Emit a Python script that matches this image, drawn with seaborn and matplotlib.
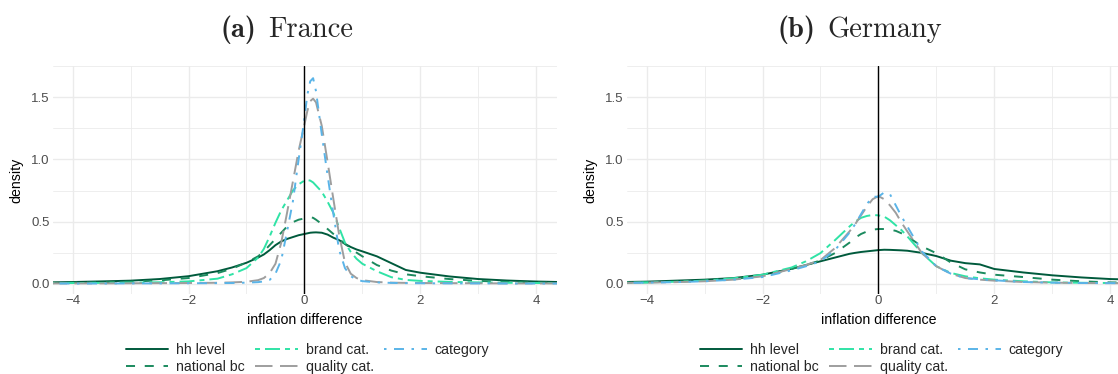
import matplotlib
matplotlib.use("Agg")
import matplotlib.pyplot as plt
from matplotlib.lines import Line2D
import seaborn as sns
import pandas as pd

# ---------------- data ----------------
series = ["hh level", "national bc", "brand cat.", "quality cat.", "category"]

fr_x = [-4.4, -4.0, -3.5, -3.0, -2.5, -2.0, -1.5, -1.25, -1.0, -0.8, -0.7, -0.6, -0.5,
        -0.4, -0.3, -0.2, -0.1, 0.0, 0.05, 0.1, 0.15, 0.2, 0.3, 0.4, 0.5, 0.6, 0.7,
        0.8, 0.9, 1.0, 1.25, 1.5, 1.75, 2.0, 2.5, 3.0, 3.5, 4.0, 4.4]
fr_hh = [0.010, 0.013, 0.018, 0.024, 0.037, 0.060, 0.100, 0.130, 0.168, 0.210, 0.235, 0.270, 0.310,
         0.340, 0.360, 0.375, 0.390, 0.400, 0.405, 0.410, 0.412, 0.413, 0.410, 0.395, 0.370, 0.350, 0.320,
         0.295, 0.275, 0.260, 0.220, 0.165, 0.110, 0.088, 0.058, 0.037, 0.025, 0.017, 0.013]
fr_nat = [0.006, 0.008, 0.011, 0.016, 0.026, 0.045, 0.085, 0.120, 0.170, 0.220, 0.260, 0.310, 0.360,
          0.410, 0.460, 0.495, 0.515, 0.525, 0.530, 0.535, 0.530, 0.515, 0.480, 0.440, 0.400, 0.360, 0.320,
          0.285, 0.250, 0.220, 0.150, 0.105, 0.075, 0.060, 0.037, 0.022, 0.014, 0.009, 0.007]
fr_brand = [0.004, 0.005, 0.006, 0.008, 0.011, 0.018, 0.040, 0.075, 0.125, 0.210, 0.280, 0.380, 0.490,
            0.590, 0.670, 0.750, 0.800, 0.830, 0.834, 0.830, 0.815, 0.790, 0.740, 0.660, 0.570, 0.450, 0.330,
            0.255, 0.200, 0.160, 0.100, 0.052, 0.030, 0.022, 0.014, 0.010, 0.007, 0.005, 0.004]
fr_qual = [0.002, 0.002, 0.002, 0.003, 0.004, 0.005, 0.007, 0.010, 0.015, 0.028, 0.045, 0.085, 0.160,
           0.330, 0.570, 0.820, 1.070, 1.280, 1.390, 1.470, 1.490, 1.460, 1.270, 0.980, 0.680, 0.390, 0.170,
           0.080, 0.045, 0.028, 0.013, 0.008, 0.006, 0.005, 0.004, 0.003, 0.002, 0.002, 0.002]
fr_cat = [0.001, 0.001, 0.001, 0.002, 0.002, 0.003, 0.004, 0.005, 0.008, 0.012, 0.018, 0.030, 0.080,
          0.190, 0.420, 0.660, 1.000, 1.330, 1.520, 1.630, 1.655, 1.550, 1.200, 0.870, 0.560, 0.270, 0.125,
          0.060, 0.032, 0.020, 0.010, 0.006, 0.004, 0.003, 0.002, 0.002, 0.001, 0.001, 0.001]

de_x = [-4.4, -4.0, -3.5, -3.0, -2.5, -2.0, -1.5, -1.25, -1.0, -0.75, -0.5, -0.4, -0.3, -0.2, -0.1,
        0.0, 0.1, 0.2, 0.3, 0.4, 0.5, 0.75, 1.0, 1.25, 1.5, 1.75, 2.0, 2.5, 3.0, 3.5, 4.0, 4.4]
de_hh = [0.013, 0.016, 0.024, 0.032, 0.045, 0.072, 0.120, 0.150, 0.180, 0.210, 0.240, 0.248, 0.255, 0.260, 0.265,
         0.270, 0.273, 0.272, 0.270, 0.268, 0.265, 0.248, 0.222, 0.185, 0.165, 0.155, 0.118, 0.090, 0.067, 0.050, 0.037, 0.032]
de_nat = [0.008, 0.010, 0.016, 0.024, 0.037, 0.064, 0.118, 0.150, 0.187, 0.246, 0.330, 0.370, 0.400, 0.420, 0.435,
          0.440, 0.440, 0.435, 0.425, 0.405, 0.380, 0.300, 0.245, 0.170, 0.115, 0.090, 0.072, 0.053, 0.032, 0.019, 0.010, 0.008]
de_brand = [0.008, 0.010, 0.015, 0.024, 0.043, 0.072, 0.130, 0.180, 0.246, 0.350, 0.460, 0.500, 0.530, 0.545, 0.553,
            0.550, 0.540, 0.510, 0.470, 0.430, 0.380, 0.246, 0.140, 0.086, 0.059, 0.043, 0.032, 0.019, 0.010, 0.007, 0.005, 0.004]
de_qual = [0.006, 0.008, 0.012, 0.019, 0.032, 0.059, 0.118, 0.150, 0.190, 0.286, 0.420, 0.480, 0.550, 0.620, 0.680,
           0.705, 0.680, 0.630, 0.570, 0.490, 0.420, 0.246, 0.140, 0.080, 0.045, 0.032, 0.024, 0.013, 0.008, 0.005, 0.004, 0.003]
de_cat = [0.005, 0.008, 0.012, 0.019, 0.032, 0.053, 0.107, 0.140, 0.180, 0.270, 0.410, 0.480, 0.560, 0.640, 0.700,
          0.700, 0.735, 0.720, 0.630, 0.540, 0.460, 0.260, 0.140, 0.080, 0.045, 0.035, 0.027, 0.013, 0.008, 0.005, 0.004, 0.003]

x_ticks = [-4, -2, 0, 2, 4]
y_ticks = [0.0, 0.5, 1.0, 1.5]
y_tick_labels = ["0.0", "0.5", "1.0", "1.5"]
panel_labels = ["(a)", "(b)"]
panel_names = ["France", "Germany"]

# ---------------- styles ----------------
palette = {"hh level": "#005A3C", "national bc": "#1B8A5E", "brand cat.": "#30E3A6",
           "quality cat.": "#9E9E9E", "category": "#5AB4E8"}
dashes = {"hh level": "", "national bc": (6.5, 7.0), "brand cat.": (3.6, 3.6, 10.8, 3.6),
          "quality cat.": (12.6, 5.4), "category": (1.8, 5.4, 7.2, 5.4)}
LW = 1.4

sns.set_style("white")
plt.rcParams["font.family"] = ["Liberation Sans", "DejaVu Sans"]
plt.rcParams["lines.scale_dashes"] = False


def long_frame(x, cols):
    parts = []
    for name, vals in zip(series, cols):
        parts.append(pd.DataFrame({"x": x, "density": vals, "series": name}))
    return pd.concat(parts, ignore_index=True)


df_fr = long_frame(fr_x, [fr_hh, fr_nat, fr_brand, fr_qual, fr_cat])
df_de = long_frame(de_x, [de_hh, de_nat, de_brand, de_qual, de_cat])

W, H = 1118, 374
fig = plt.figure(figsize=(W / 100, H / 100), dpi=100)
ax1 = fig.add_axes([53 / W, 80 / H, 504 / W, 228 / H])
ax2 = fig.add_axes([627 / W, 80 / H, 504 / W, 228 / H])

title_cx = [287, 860]
TITLE_FS = 20.5

for ax, df in zip([ax1, ax2], [df_fr, df_de]):
    sns.lineplot(data=df, x="x", y="density", hue="series", style="series",
                 hue_order=series, style_order=series, palette=palette, dashes=dashes,
                 linewidth=LW, estimator=None, sort=False, legend=False, ax=ax)
    ax.axvline(0, color="black", lw=1.0, zorder=5)
    ax.set_xlim(-4.34, 4.36)
    ax.set_ylim(-0.0835, 1.753)
    ax.set_xticks(x_ticks)
    ax.set_xticks([-3, -1, 1, 3], minor=True)
    ax.set_yticks(y_ticks)
    ax.set_yticklabels(y_tick_labels)
    ax.set_yticks([0.25, 0.75, 1.25, 1.75], minor=True)
    ax.grid(True, which="major", color="#EBEBEB", lw=1.0)
    ax.grid(True, which="minor", color="#EBEBEB", lw=0.6)
    ax.set_axisbelow(True)
    for s in ax.spines.values():
        s.set_visible(False)
    ax.tick_params(which="both", length=0, labelsize=9.5, labelcolor="#4D4D4D")
    ax.tick_params(axis="x", pad=1.0)
    ax.tick_params(axis="y", pad=2.2)
    ax.set_xlabel("inflation difference", fontsize=10.2, color="black")
    ax.set_ylabel("density", fontsize=10.2, color="black")
    ax.xaxis.set_label_coords(0.5, -0.085)
    ax.yaxis.set_label_coords(-0.0585, 0.5)

    handles = [Line2D([], [], color=palette[s], lw=LW, dashes=dashes[s]) for s in series]
    ax.legend(handles, series, loc="upper center", bbox_to_anchor=(0.505, -0.214), ncol=3,
              frameon=False, fontsize=10.2, handlelength=3.0, handletextpad=0.55,
              columnspacing=0.75, labelspacing=0.2, borderpad=0, borderaxespad=0)

# ---------------- titles: bold CM label + roman CM name ----------------
renderer = fig.canvas.get_renderer()
GAP = 12  # px between label and name
base_y = 1 - 37 / H
for cx, lab, name in zip(title_cx, panel_labels, panel_names):
    t1 = fig.text(0, base_y, lab, family="cmb10", fontsize=TITLE_FS, ha="left", va="baseline")
    t2 = fig.text(0, base_y, name, family="cmr10", fontsize=TITLE_FS, ha="left", va="baseline")
    w1 = t1.get_window_extent(renderer).width
    w2 = t2.get_window_extent(renderer).width
    left = cx - (w1 + GAP + w2) / 2
    t1.set_x(left / W)
    t2.set_x((left + w1 + GAP) / W)

fig.savefig("out.png", dpi=100)
